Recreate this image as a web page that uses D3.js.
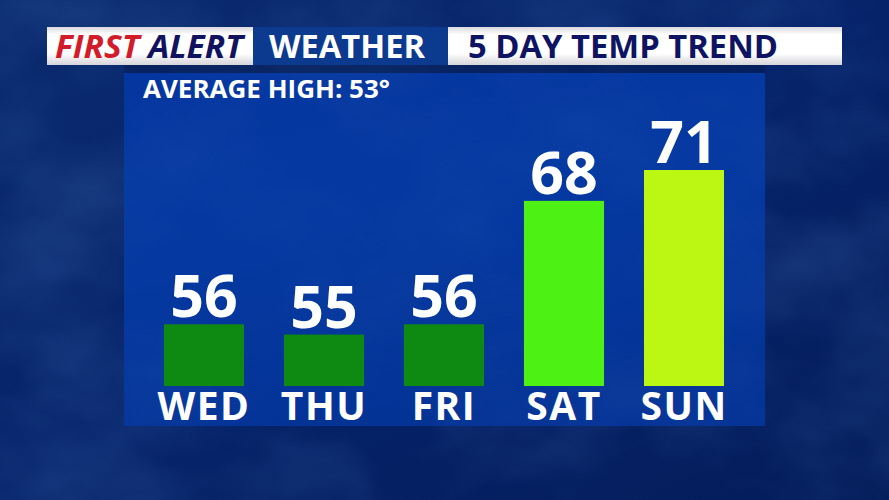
<!DOCTYPE html>
<html><head><meta charset="utf-8">
<script src="https://cdn.jsdelivr.net/npm/d3@7"></script>
<style>html,body{margin:0;padding:0;background:#06215f;}svg{display:block;}</style>
</head><body>
<script>
const days = ["WED", "THU", "FRI", "SAT", "SUN"];
const temps = [56, 55, 56, 68, 71];
const averageHigh = 53;
const titleParts = ["FIRST", "ALERT", "WEATHER", "5 DAY TEMP TREND"];
const barColors = ["#0e8a13", "#0e8a13", "#0e8a13", "#4df214", "#bbf713"];

const W = 889, H = 500;
const svg = d3.select("body").append("svg").attr("width", W).attr("height", H);
const defs = svg.append("defs");

// background gradient
const bg = defs.append("linearGradient").attr("id", "bg").attr("x1", 0).attr("y1", 0).attr("x2", 1).attr("y2", 1);
bg.append("stop").attr("offset", 0).attr("stop-color", "#0a2a6e");
bg.append("stop").attr("offset", 0.5).attr("stop-color", "#06236a");
bg.append("stop").attr("offset", 1).attr("stop-color", "#041d5a");
svg.append("rect").attr("width", W).attr("height", H).attr("fill", "url(#bg)");

// cloud texture
const f = defs.append("filter").attr("id", "clouds").attr("x", 0).attr("y", 0).attr("width", "100%").attr("height", "100%");
f.append("feTurbulence").attr("type", "fractalNoise").attr("baseFrequency", "0.006 0.009").attr("numOctaves", 4).attr("seed", 7).attr("result", "n");
f.append("feColorMatrix").attr("in", "n").attr("type", "matrix")
  .attr("values", "0 0 0 0 0.08  0 0 0 0 0.22  0 0 0 0 0.55  1.6 0 0 0 -0.6").attr("result", "c");
svg.append("rect").attr("width", W).attr("height", H).attr("filter", "url(#clouds)").attr("opacity", 0.3);

// panel
const panel = {x0: 124, y0: 73, x1: 765, y1: 426};
const pg = defs.append("linearGradient").attr("id", "pg").attr("x1", 0).attr("y1", 0).attr("x2", 0.3).attr("y2", 1);
pg.append("stop").attr("offset", 0).attr("stop-color", "#0536a0");
pg.append("stop").attr("offset", 0.5).attr("stop-color", "#0539a1");
pg.append("stop").attr("offset", 1).attr("stop-color", "#043396");
svg.append("rect").attr("x", panel.x0).attr("y", 65).attr("width", panel.x1 - panel.x0).attr("height", 8)
  .attr("fill", "#041b52").attr("opacity", 0.5);
svg.append("rect").attr("x", panel.x0).attr("y", panel.y0).attr("width", panel.x1 - panel.x0).attr("height", panel.y1 - panel.y0)
  .attr("fill", "url(#pg)");
svg.append("rect").attr("x", panel.x0).attr("y", panel.y0).attr("width", panel.x1 - panel.x0).attr("height", panel.y1 - panel.y0)
  .attr("filter", "url(#clouds)").attr("opacity", 0.12);

// header
const hg = defs.append("linearGradient").attr("id", "hg").attr("x1", 0).attr("y1", 0).attr("x2", 0).attr("y2", 1);
hg.append("stop").attr("offset", 0).attr("stop-color", "#d9d9de");
hg.append("stop").attr("offset", 0.2).attr("stop-color", "#ffffff");
hg.append("stop").attr("offset", 0.7).attr("stop-color", "#ffffff");
hg.append("stop").attr("offset", 1).attr("stop-color", "#d4d4da");
const hy = 27, hh = 38;
svg.append("rect").attr("x", 47).attr("y", hy).attr("width", 206).attr("height", hh).attr("fill", "url(#hg)");
svg.append("rect").attr("x", 253).attr("y", hy).attr("width", 195).attr("height", hh).attr("fill", "#0b3a8e");
svg.append("rect").attr("x", 448).attr("y", hy).attr("width", 394).attr("height", hh).attr("fill", "url(#hg)");

const font = "'Open Sans', 'DejaVu Sans', sans-serif";
const t1 = svg.append("text").attr("x", 55).attr("y", 58).attr("font-family", font).attr("font-weight", 700)
  .attr("font-style", "italic").attr("font-size", 31.5).attr("textLength", 188).attr("lengthAdjust", "spacingAndGlyphs");
t1.append("tspan").attr("fill", "#d21c2a").text(titleParts[0]);
t1.append("tspan").attr("fill", "#12135f").text(" " + titleParts[1]);
svg.append("text").attr("x", 269).attr("y", 58).attr("font-family", font).attr("font-weight", 700)
  .attr("font-size", 31.5).attr("fill", "#ffffff").attr("textLength", 156).attr("lengthAdjust", "spacingAndGlyphs").text(titleParts[2]);
svg.append("text").attr("x", 468).attr("y", 58).attr("font-family", font).attr("font-weight", 700)
  .attr("font-size", 31.5).attr("fill", "#0e1462").attr("textLength", 310).attr("lengthAdjust", "spacingAndGlyphs").text(titleParts[3]);

// average high
svg.append("text").attr("x", 143).attr("y", 98).attr("font-family", font).attr("font-weight", 700)
  .attr("font-size", 24.5).attr("fill", "#ffffff").attr("textLength", 247).attr("lengthAdjust", "spacingAndGlyphs")
  .text("AVERAGE HIGH: " + averageHigh + "°");

// scales
const x = d3.scaleBand().domain(days).range([panel.x0, panel.x1 - 1]).paddingInner(1 / 3).paddingOuter(1 / 3);
const y = d3.scaleLinear().domain([50, 71]).range([386, 170]);

const g = svg.append("g");
g.selectAll("rect.bar").data(days).join("rect").attr("class", "bar")
  .attr("x", d => x(d)).attr("width", x.bandwidth())
  .attr("y", (d, i) => y(temps[i])).attr("height", (d, i) => y(50) - y(temps[i]))
  .attr("fill", (d, i) => barColors[i]);

g.selectAll("text.val").data(days).join("text").attr("class", "val")
  .attr("x", d => x(d) + x.bandwidth() / 2).attr("y", (d, i) => y(temps[i]) - 7)
  .attr("text-anchor", "middle").attr("font-family", font).attr("font-weight", 700)
  .attr("font-size", 59).attr("fill", "#ffffff").text((d, i) => temps[i]);

// day axis
const ax = svg.append("g").attr("transform", "translate(0,386)")
  .call(d3.axisBottom(x).tickSize(0).tickPadding(0));
ax.select(".domain").remove();
ax.selectAll("text").attr("y", 34).attr("dy", null).attr("font-family", font).attr("font-weight", 700)
  .attr("font-size", 39).attr("letter-spacing", 1.5).attr("fill", "#ffffff");
</script>
</body></html>
